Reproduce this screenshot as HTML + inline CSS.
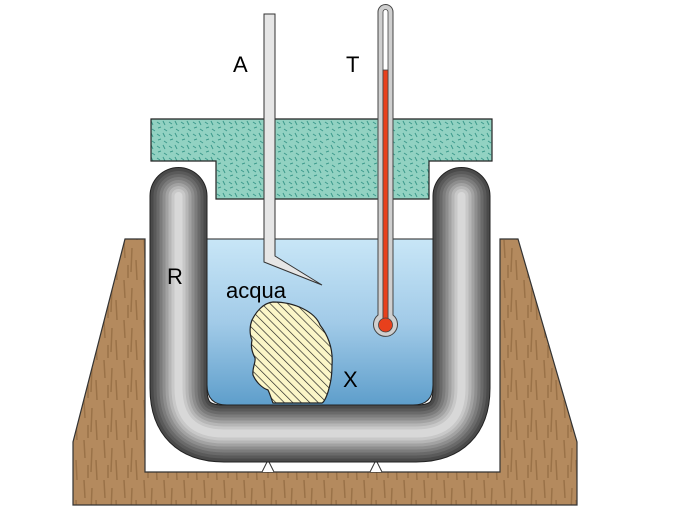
<!DOCTYPE html>
<html><head><style>
html,body{margin:0;padding:0;background:#fff}
svg{display:block}
text{font-family:"Liberation Sans",sans-serif;font-size:22px;fill:#000}
</style></head><body>
<svg width="682" height="515" viewBox="0 0 682 515" xmlns="http://www.w3.org/2000/svg">
<defs>
<linearGradient id="water" x1="0" y1="0" x2="0" y2="1">
<stop offset="0" stop-color="#c8e6f7"/><stop offset="0.5" stop-color="#a2cbe8"/><stop offset="1" stop-color="#5e9ecb"/>
</linearGradient>
<pattern id="hatch" width="6" height="6" patternUnits="userSpaceOnUse" patternTransform="rotate(-45)">
<rect width="6" height="6" fill="#fbf6c8"/><line x1="0" y1="0" x2="0" y2="6" stroke="#222" stroke-width="1.3"/>
</pattern>
<pattern id="wood" width="20" height="40" patternUnits="userSpaceOnUse">
<rect width="20" height="40" fill="#b48a5e"/>
<path d="M4 0 L5 18 M12 8 L11 32 M16 20 L17 40 M8 25 L8 38" stroke="#9a7248" stroke-width="1.5"/>
</pattern>
<pattern id="foam" width="12" height="12" patternUnits="userSpaceOnUse">
<rect width="12" height="12" fill="#92d2c2"/>
<path d="M1 2 L4 4 M7 1 L9 5 M2 8 L5 7 M8 9 L11 11" stroke="#3d9a8c" stroke-width="1"/>
</pattern>
<path id="tube" d="M178.5 196 L178.5 388 Q178.5 433.5 224 433.5 L416 433.5 Q461.5 433.5 461.5 388 L461.5 196"/>
</defs>
<path d="M125 239 L145 239 L145 472 L500 472 L500 239 L518 239 L577 442 L577 505 L73 505 L73 442 Z" fill="url(#wood)" stroke="#333" stroke-width="1.2"/>
<path d="M262 472 L268 460 L274 472" fill="#fff" stroke="#333"/>
<path d="M370 472 L376 460 L382 472" fill="#fff" stroke="#333"/>
<path d="M151 119 L492 119 L492 161 L429 161 L429 199 L216 199 L216 161 L151 161 Z" fill="url(#foam)" stroke="#222" stroke-width="1.2"/>
<path d="M207 239 L433 239 L433 385 Q433 405 413 405 L227 405 Q207 405 207 385 Z" fill="url(#water)" stroke="#222" stroke-width="1"/>
<g fill="none" stroke-linecap="round">
<use href="#tube" stroke="#222" stroke-width="58"/>
<use href="#tube" stroke="#4a4a4a" stroke-width="56"/>
<use href="#tube" stroke="#5a5a5a" stroke-width="50"/>
<use href="#tube" stroke="#6a6a6a" stroke-width="44"/>
<use href="#tube" stroke="#7c7c7c" stroke-width="38"/>
<use href="#tube" stroke="#8e8e8e" stroke-width="32"/>
<use href="#tube" stroke="#a2a2a2" stroke-width="26"/>
<use href="#tube" stroke="#b6b6b6" stroke-width="20"/>
<use href="#tube" stroke="#c8c8c8" stroke-width="14"/>
<use href="#tube" stroke="#d8d8d8" stroke-width="8"/>
</g>
<path d="M273 302 C295 302 315 312 320 325 C330 338 333 352 332 365 C332 378 330 385 328 392 C326 398 324 402 322 403 L273 403 C271 398 270 394 268 390 C262 388 256 382 253 375 C252 368 256 362 255 358 C251 350 251 345 252 340 C249 333 250 325 252 320 C256 312 263 303 273 302 Z" fill="url(#hatch)" stroke="#222" stroke-width="1.2"/>
<path d="M264 14 L275 14 L275 256 L322 285 L264 262 Z" fill="#e6e6e6" stroke="#333" stroke-width="1"/>
<path d="M378 12 A7.5 7.5 0 0 1 393 12 L393 315 A12 12 0 1 1 378 315 Z" fill="#cfcfcf" stroke="#444" stroke-width="1"/>
<path d="M383 12 A2.5 2.5 0 0 1 388 12 L388 318 L383 318 Z" fill="#fff" stroke="#444" stroke-width="0.8"/>
<rect x="383" y="70" width="5" height="250" fill="#e8401c" stroke="#444" stroke-width="0.8"/>
<circle cx="385.5" cy="325" r="7" fill="#e8401c" stroke="#444" stroke-width="0.8"/>
<text x="233" y="72">A</text>
<text x="346" y="72">T</text>
<text x="167" y="284">R</text>
<text x="226" y="298">acqua</text>
<text x="343" y="387">X</text>
</svg>
</body></html>
